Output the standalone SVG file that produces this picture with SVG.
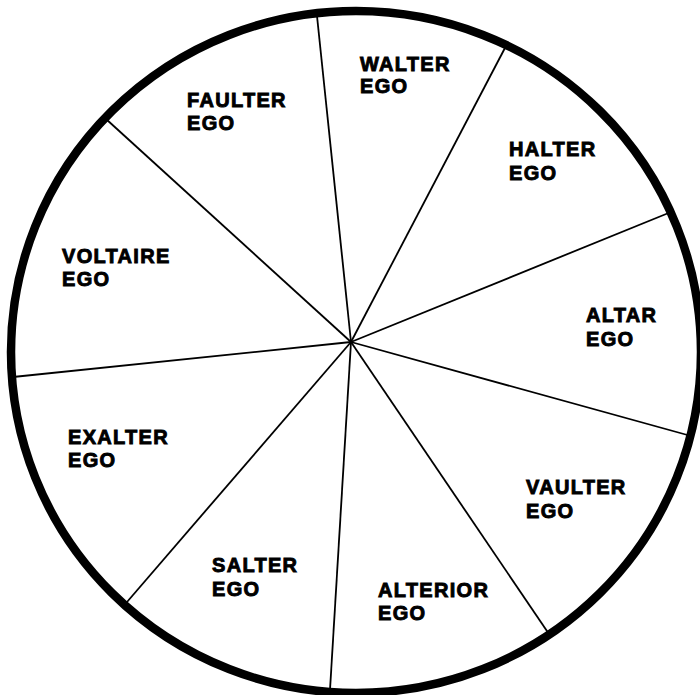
<svg xmlns="http://www.w3.org/2000/svg" width="700" height="695" viewBox="0 0 700 695">
<style>
.rim{fill:none;stroke:#000;stroke-width:8.5}
.sp{stroke:#000;stroke-width:1.8;fill:none}
text{font-family:"Liberation Sans",Arial,sans-serif;font-weight:bold;font-size:20px;letter-spacing:1.3px;fill:#000;stroke:#000;stroke-width:0.9px}
</style>
<rect width="700" height="695" fill="#fff"/>
<g id="connectors">
<line class="sp" x1="351" y1="342" x2="317" y2="16"/>
<line class="sp" x1="351" y1="342" x2="506" y2="46"/>
<line class="sp" x1="351" y1="342" x2="671" y2="212"/>
<line class="sp" x1="351" y1="342" x2="691" y2="436"/>
<line class="sp" x1="351" y1="342" x2="549" y2="634"/>
<line class="sp" x1="351" y1="342" x2="330" y2="690"/>
<line class="sp" x1="351" y1="342" x2="127" y2="602"/>
<line class="sp" x1="351" y1="342" x2="13" y2="377"/>
<line class="sp" x1="351" y1="342" x2="106" y2="119"/>
</g>
<ellipse id="rim" class="rim" cx="356" cy="352" rx="345" ry="341"/>
<g id="walter"><text x="360" y="71">WALTER</text><text x="360" y="93">EGO</text></g>
<g id="halter"><text x="509" y="156">HALTER</text><text x="509" y="180">EGO</text></g>
<g id="altar"><text x="586" y="322">ALTAR</text><text x="586" y="346">EGO</text></g>
<g id="vaulter"><text x="526" y="494">VAULTER</text><text x="526" y="518">EGO</text></g>
<g id="alterior"><text x="378" y="597">ALTERIOR</text><text x="378" y="620">EGO</text></g>
<g id="salter"><text x="212" y="572">SALTER</text><text x="212" y="596">EGO</text></g>
<g id="exalter"><text x="68" y="444">EXALTER</text><text x="68" y="467">EGO</text></g>
<g id="voltaire"><text x="62" y="263">VOLTAIRE</text><text x="62" y="286">EGO</text></g>
<g id="faulter"><text x="187" y="107">FAULTER</text><text x="187" y="130">EGO</text></g>
</svg>
